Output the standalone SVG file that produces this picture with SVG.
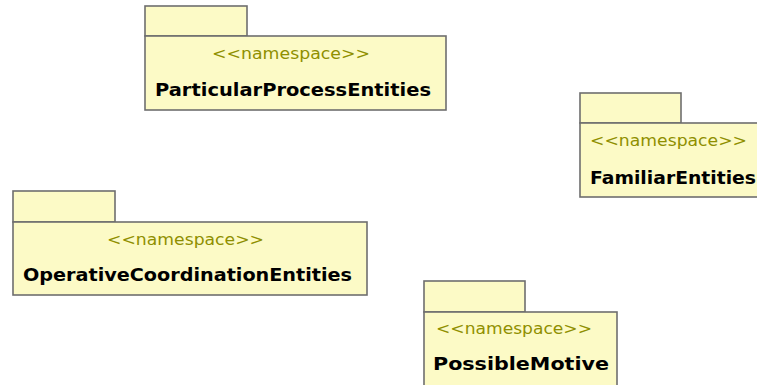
<svg xmlns="http://www.w3.org/2000/svg" width="757" height="385" viewBox="0 0 757 385">
<style>
.pk{fill:#FCFAC6;stroke:#6E6E6E;stroke-width:1.6}
.st{font-family:"DejaVu Sans",Verdana,sans-serif;font-size:16.5px;fill:#8F8F00}
.nm{font-family:"DejaVu Sans",Verdana,sans-serif;font-size:18.5px;font-weight:bold;fill:#000}
</style>
<rect width="757" height="385" fill="#FFFFFF"/>
<g id="ParticularProcessEntities">
<rect class="pk" x="145" y="6" width="102" height="30"/>
<rect class="pk" x="145" y="36" width="301" height="74"/>
<text class="st" x="212" y="59" textLength="158" lengthAdjust="spacingAndGlyphs">&lt;&lt;namespace&gt;&gt;</text>
<text class="nm" x="155" y="96" textLength="276" lengthAdjust="spacingAndGlyphs">ParticularProcessEntities</text>
</g>
<g id="FamiliarEntities">
<rect class="pk" x="580" y="93" width="101" height="30"/>
<rect class="pk" x="580" y="123" width="190" height="74"/>
<text class="st" x="590" y="146" textLength="157" lengthAdjust="spacingAndGlyphs">&lt;&lt;namespace&gt;&gt;</text>
<text class="nm" x="590" y="184" textLength="166" lengthAdjust="spacingAndGlyphs">FamiliarEntities</text>
</g>
<g id="OperativeCoordinationEntities">
<rect class="pk" x="13" y="191" width="102" height="31"/>
<rect class="pk" x="13" y="222" width="354" height="73"/>
<text class="st" x="107" y="245" textLength="157" lengthAdjust="spacingAndGlyphs">&lt;&lt;namespace&gt;&gt;</text>
<text class="nm" x="23" y="281" textLength="329" lengthAdjust="spacingAndGlyphs">OperativeCoordinationEntities</text>
</g>
<g id="PossibleMotive">
<rect class="pk" x="424" y="281" width="101" height="31"/>
<rect class="pk" x="424" y="312" width="193" height="90"/>
<text class="st" x="436" y="334" textLength="156" lengthAdjust="spacingAndGlyphs">&lt;&lt;namespace&gt;&gt;</text>
<text class="nm" x="433" y="370" textLength="176" lengthAdjust="spacingAndGlyphs">PossibleMotive</text>
</g>
<g id="connectors"></g>
</svg>
